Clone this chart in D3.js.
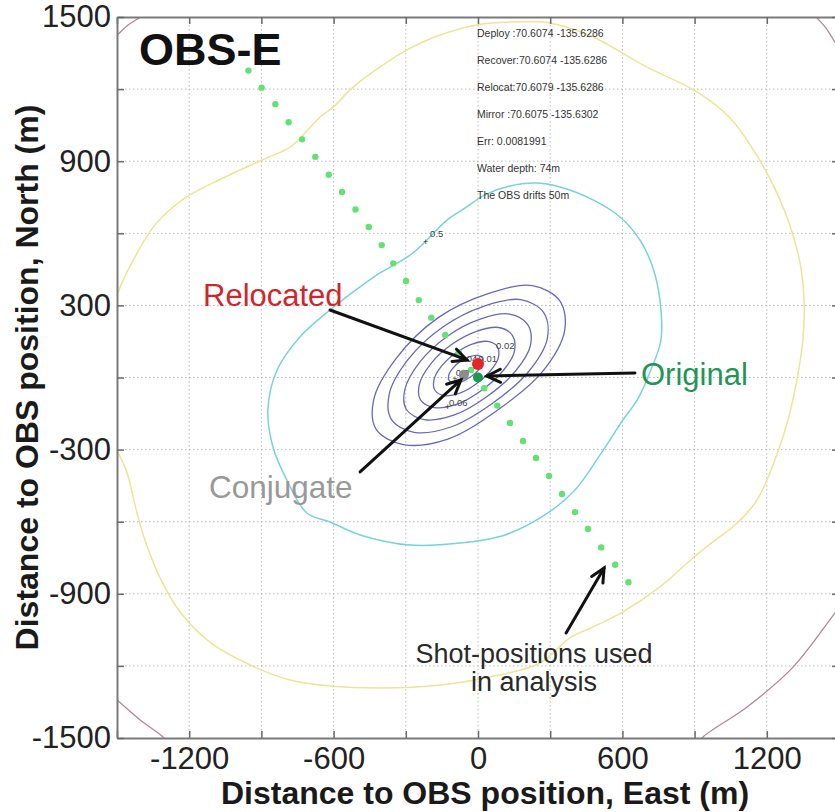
<!DOCTYPE html>
<html>
<head>
<meta charset="utf-8">
<script src="https://cdn.jsdelivr.net/npm/d3@7"></script>
<style>
  body { margin: 0; background: #fff; }
  svg { display: block; }
  text { font-family: "Liberation Sans", Arial, Helvetica, sans-serif; }
</style>
</head>
<body>
<svg id="chart" width="835" height="812"></svg>
<script>
// ---- axis ticks (metres from the deployment position) ----
const gridValues = [-1500, -1200, -900, -600, -300, 0, 300, 600, 900, 1200, 1500];
const xTickLabels = [-1200, -600, 0, 600, 1200];
const yTickLabels = [1500, 900, 300, -300, -900, -1500];

// ---- shot positions along the profile (east, north) ----
const shotEast  = [-954, -899, -842, -787, -731, -676, -620, -565, -509, -454, -400, -352, -299, -246, -194, -136, -80, -29, 26, 80, 133, 187, 241, 295, 349, 403, 457, 512, 570, 625];
const shotNorth = [1277, 1206, 1137, 1062, 991, 918, 844, 772, 699, 626, 551, 475, 402, 322, 249, 177, 105, 31, -45, -117, -189, -264, -335, -410, -485, -560, -630, -707, -779, -852];

// ---- misfit contours, [east, north] ----
const contourOuterYellow = [[-1560,-52],[-1546,114],[-1496,352],[-1428,497],[-1342,635],[-1217,747],[-1060,830],[-897,905],[-781,959],[-719,1017],[-656,1084],[-602,1125],[-519,1208],[-407,1292],[-295,1363],[-158,1425],[-4,1467],[133,1479],[299,1475],[478,1417],[686,1300],[910,1188],[1047,1080],[1163,917],[1255,739],[1305,605],[1342,456],[1355,322],[1350,156],[1325,-10],[1288,-177],[1234,-343],[1159,-510],[1068,-614],[976,-684],[893,-751],[756,-871],[602,-975],[478,-1038],[382,-1083],[258,-1188],[50,-1246],[-199,-1284],[-407,-1292],[-615,-1284],[-781,-1259],[-947,-1196],[-1114,-1101],[-1238,-976],[-1321,-834],[-1384,-676],[-1417,-564],[-1458,-397],[-1505,-289],[-1540,-177]];

const contourHalf = [[-129,655],[-66,697],[37,764],[133,797],[237,809],[341,793],[478,739],[590,668],[673,572],[727,456],[756,322],[760,156],[715,23],[661,-94],[602,-177],[507,-322],[403,-468],[278,-572],[112,-655],[-75,-689],[-283,-697],[-490,-655],[-615,-601],[-711,-564],[-794,-427],[-852,-289],[-873,-135],[-835,31],[-740,169],[-615,281],[-490,377],[-407,435],[-270,518]];

const contourBlue1 = [[340,319],[360,195],[266,22],[82,-135],[-125,-256],[-310,-279],[-423,-216],[-433,-91],[-339,81],[-165,249],[42,349],[226,382]];
const contourBlue2 = [[273,270],[288,162],[208,22],[59,-108],[-113,-206],[-266,-228],[-360,-174],[-369,-70],[-291,74],[-146,210],[26,297],[178,324]];
const contourBlue3 = [[206,221],[218,134],[156,27],[36,-80],[-101,-157],[-223,-175],[-298,-132],[-304,-50],[-242,64],[-127,172],[9,243],[131,264]];
const contourBlue4 = [[143,175],[151,108],[104,28],[14,-54],[-90,-112],[-182,-125],[-239,-93],[-244,-30],[-197,56],[-110,137],[-6,192],[86,208]];
const contourBlue5 = [[80,129],[85,84],[53,29],[-8,-27],[-78,-66],[-141,-75],[-179,-53],[-183,-10],[-151,48],[-92,102],[-21,140],[41,150]];
const contourBlue6 = [[17,83],[19,61],[2,31],[-30,3],[-67,-17],[-100,-23],[-120,-13],[-122,9],[-105,38],[-74,67],[-37,86],[-4,92]];

const cornerTopLeft     = [[-1560,1380],[-1500,1425],[-1454,1467],[-1404,1500],[-1380,1530]];
const cornerTopRight    = [[1380,1530],[1409,1496],[1446,1454],[1483,1396],[1546,1313]];
const cornerBottomLeft  = [[-1540,-1310],[-1500,-1342],[-1404,-1425],[-1309,-1496],[-1290,-1520]];
const cornerBottomRight = [[910,-1530],[935,-1496],[1118,-1371],[1309,-1205],[1483,-980],[1587,-842]];

// ---- station solutions ----
const originalPos  = [0, 0];
const relocatedPos = [0, 56];
const conjugatePos = [-59, 11];

// ---- contour labels ----
const contourLabels = [
  { text: "0.5",  at: [-199, 585], mark: [-218, 566] },
  { text: "0.02", at: [75, 119],   mark: null },
  { text: "0.04", at: [-80, 66],   mark: null },
  { text: "0.01", at: [2, 66],     mark: null },
  { text: "0.0",  at: [-92, 5],    mark: [-96, -5] },
  { text: "0.06", at: [-120, -118], mark: [-126, -124] }
];

// ---- station summary ----
const infoLines = [
  "Deploy :70.6074 -135.6286",
  "Recover:70.6074 -135.6286",
  "Relocat:70.6079 -135.6286",
  "Mirror :70.6075 -135.6302",
  "Err: 0.0081991",
  "Water depth: 74m",
  "The OBS drifts 50m"
];

// ---- annotation arrows, [from, tip] ----
const arrowRelocated = [[-615, 281], [-46, 73]];
const arrowOriginal  = [[652, 19], [37, 6]];
const arrowConjugate = [[-490, -393], [-71, -10]];
const arrowShots     = [[366, -1063], [524, -793]];

const svg = d3.select("#chart");
const x = d3.scaleLinear().domain([-1500, 1500]).range([117, 839]);
const y = d3.scaleLinear().domain([-1500, 1500]).range([738, 17]);

svg.append("defs").append("clipPath").attr("id", "plotClip")
  .append("rect")
  .attr("x", x(-1500)).attr("y", y(1500))
  .attr("width", x(1500) - x(-1500)).attr("height", y(-1500) - y(1500));

// dotted grid
const grid = svg.append("g").attr("clip-path", "url(#plotClip)");
grid.selectAll("line.gx").data(gridValues.slice(1, -1)).join("line")
  .attr("x1", d => x(d)).attr("x2", d => x(d))
  .attr("y1", y(1500)).attr("y2", y(-1500))
  .attr("stroke", "#b8b8b8").attr("stroke-width", 1).attr("stroke-dasharray", "1.5,2.5");
grid.selectAll("line.gy").data(gridValues.slice(1, -1)).join("line")
  .attr("y1", d => y(d)).attr("y2", d => y(d))
  .attr("x1", x(-1500)).attr("x2", x(1500))
  .attr("stroke", "#b8b8b8").attr("stroke-width", 1).attr("stroke-dasharray", "1.5,2.5");

const plot = svg.append("g").attr("clip-path", "url(#plotClip)");
const closed = d3.line().x(d => x(d[0])).y(d => y(d[1])).curve(d3.curveCatmullRomClosed.alpha(0.5));
const open = d3.line().x(d => x(d[0])).y(d => y(d[1])).curve(d3.curveCatmullRom.alpha(0.5));

[cornerTopLeft, cornerTopRight, cornerBottomLeft, cornerBottomRight].forEach(c => {
  plot.append("path").attr("d", open(c)).attr("fill", "none")
    .attr("stroke", "#b58593").attr("stroke-width", 1.3);
});
plot.append("path").attr("d", closed(contourOuterYellow)).attr("fill", "none")
  .attr("stroke", "#ece594").attr("stroke-width", 1.5);
plot.append("path").attr("d", closed(contourHalf)).attr("fill", "none")
  .attr("stroke", "#76d3d9").attr("stroke-width", 1.5);
[contourBlue1, contourBlue2, contourBlue3, contourBlue4, contourBlue5, contourBlue6].forEach(c => {
  plot.append("path").attr("d", closed(c)).attr("fill", "none")
    .attr("stroke", "#6868ba").attr("stroke-width", 1.3);
});

// shot points
const shots = shotEast.map((e, i) => [e, shotNorth[i]]);
plot.selectAll("circle.shot").data(shots).join("circle")
  .attr("cx", d => x(d[0])).attr("cy", d => y(d[1])).attr("r", 3.2)
  .attr("fill", "#62e272");

// contour labels
const lbl = plot.append("g");
contourLabels.forEach(l => {
  if (l.mark) {
    lbl.append("text").attr("x", x(l.mark[0])).attr("y", y(l.mark[1]))
      .attr("text-anchor", "middle").attr("dy", "0.35em")
      .attr("font-size", 9).attr("fill", "#333").text("+");
  }
  lbl.append("text").attr("x", x(l.at[0])).attr("y", y(l.at[1]))
    .attr("font-size", 9.5).attr("fill", "#444").text(l.text);
});

// station markers
plot.append("circle").attr("cx", x(conjugatePos[0])).attr("cy", y(conjugatePos[1])).attr("r", 5).attr("fill", "#8c8c8c");
plot.append("circle").attr("cx", x(relocatedPos[0])).attr("cy", y(relocatedPos[1])).attr("r", 6).attr("fill", "#e3262a");
plot.append("circle").attr("cx", x(originalPos[0])).attr("cy", y(originalPos[1])).attr("r", 5).attr("fill", "#1e9a4e");

// axes
function styleAxis(g) {
  g.select(".domain").attr("stroke", "#7a7a7a").attr("stroke-width", 2);
  g.selectAll(".tick line").attr("stroke", "#6a6a6a").attr("stroke-width", 1.5);
  g.selectAll(".tick text").attr("fill", "#222").attr("font-size", 31)
    .attr("font-family", "'Liberation Sans', Arial, sans-serif");
}
const fmtX = d => xTickLabels.includes(d) ? String(d) : "";
const fmtY = d => yTickLabels.includes(d) ? String(d) : "";
svg.append("g").attr("transform", `translate(0,${y(-1500)})`)
  .call(d3.axisBottom(x).tickValues(gridValues).tickSize(-7).tickSizeOuter(0).tickPadding(9).tickFormat(fmtX))
  .call(styleAxis);
svg.append("g").attr("transform", `translate(0,${y(1500)})`)
  .call(d3.axisTop(x).tickValues(gridValues).tickSize(-7).tickSizeOuter(0).tickFormat(""))
  .call(styleAxis);
svg.append("g").attr("transform", `translate(${x(-1500)},0)`)
  .call(d3.axisLeft(y).tickValues(gridValues).tickSize(-7).tickSizeOuter(0).tickPadding(6).tickFormat(fmtY))
  .call(styleAxis);
svg.append("g").attr("transform", `translate(${x(1500)},0)`)
  .call(d3.axisRight(y).tickValues(gridValues).tickSize(-7).tickSizeOuter(0).tickFormat(""))
  .call(styleAxis);

// axis titles
svg.append("text").attr("x", 485).attr("y", 804).attr("text-anchor", "middle")
  .attr("font-size", 32).attr("font-weight", "bold").attr("fill", "#1a1a1a")
  .text("Distance to OBS position, East (m)");
svg.append("text").attr("transform", `translate(38,${y(0)}) rotate(-90)`)
  .attr("text-anchor", "middle")
  .attr("font-size", 32).attr("font-weight", "bold").attr("fill", "#1a1a1a")
  .text("Distance to OBS position, North (m)");

// panel name
svg.append("text").attr("x", 139).attr("y", 65)
  .attr("font-size", 45).attr("font-weight", "bold").attr("fill", "#111").text("OBS-E");

// station summary block
svg.append("g").selectAll("text").data(infoLines).join("text")
  .attr("x", 477).attr("y", (d, i) => 37 + i * 27)
  .attr("font-size", 10.5).attr("fill", "#333").text(d => d);

// annotation arrows
function arrow(a) {
  const x0 = x(a[0][0]), y0 = y(a[0][1]), x1 = x(a[1][0]), y1 = y(a[1][1]);
  const ang = Math.atan2(y1 - y0, x1 - x0);
  const len = 15, spread = 0.45;
  const g = svg.append("g").attr("stroke", "#111").attr("stroke-width", 3)
    .attr("stroke-linecap", "round").attr("fill", "none");
  g.append("line").attr("x1", x0).attr("y1", y0).attr("x2", x1).attr("y2", y1);
  g.append("path").attr("d",
    `M${x1 - len * Math.cos(ang - spread)},${y1 - len * Math.sin(ang - spread)}` +
    `L${x1},${y1}` +
    `L${x1 - len * Math.cos(ang + spread)},${y1 - len * Math.sin(ang + spread)}`);
}
[arrowRelocated, arrowOriginal, arrowConjugate, arrowShots].forEach(arrow);

// annotation labels
svg.append("text").attr("x", 203).attr("y", 306).attr("font-size", 31).attr("fill", "#d0262b").text("Relocated");
svg.append("text").attr("x", 641).attr("y", 385).attr("font-size", 31).attr("fill", "#1f9657").text("Original");
svg.append("text").attr("x", 209).attr("y", 498).attr("font-size", 31.5).attr("fill", "#999").text("Conjugate");
svg.append("text").attr("x", 534).attr("y", 663).attr("text-anchor", "middle").attr("font-size", 27).attr("fill", "#2a2a2a").text("Shot-positions used");
svg.append("text").attr("x", 534).attr("y", 691).attr("text-anchor", "middle").attr("font-size", 27).attr("fill", "#2a2a2a").text("in analysis");
</script>
</body>
</html>
